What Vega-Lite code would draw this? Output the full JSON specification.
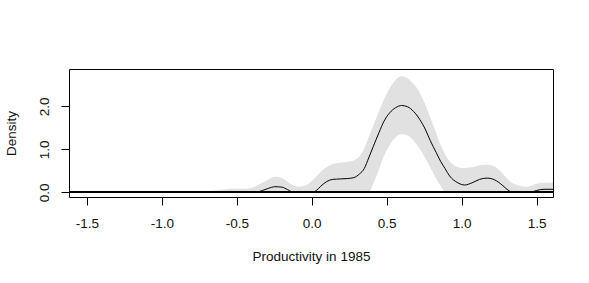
{
  "$schema": "https://vega.github.io/schema/vega-lite/v6.json",
  "width": 484,
  "height": 128,
  "autosize": "none",
  "padding": {"left": 69, "top": 69, "right": 36, "bottom": 86},
  "background": "white",
  "config": {
    "view": {"stroke": "black", "strokeWidth": 1},
    "font": "Liberation Sans",
    "axis": {
      "grid": false,
      "domain": false,
      "tickColor": "black",
      "tickSize": 8,
      "labelFont": "Liberation Sans",
      "titleFont": "Liberation Sans",
      "labelFontSize": 13.5,
      "titleFontSize": 13.5,
      "labelColor": "#111111",
      "titleColor": "#111111",
      "titleFontWeight": "normal"
    }
  },
  "data": {
    "values": [
      {"x": -1.62, "est": 0, "lo": 0, "hi": 0},
      {"x": -1.0, "est": 0, "lo": 0, "hi": 0.005},
      {"x": -0.9, "est": 0, "lo": 0, "hi": 0.01},
      {"x": -0.8, "est": 0, "lo": 0, "hi": 0.015},
      {"x": -0.7, "est": 0, "lo": 0, "hi": 0.03},
      {"x": -0.6, "est": 0, "lo": 0, "hi": 0.06},
      {"x": -0.52, "est": 0, "lo": 0, "hi": 0.09},
      {"x": -0.45, "est": 0, "lo": 0, "hi": 0.08},
      {"x": -0.38, "est": 0, "lo": 0, "hi": 0.13},
      {"x": -0.33, "est": 0.04, "lo": 0, "hi": 0.22},
      {"x": -0.29, "est": 0.09, "lo": 0, "hi": 0.3},
      {"x": -0.245, "est": 0.13, "lo": 0, "hi": 0.36},
      {"x": -0.2, "est": 0.12, "lo": 0, "hi": 0.33},
      {"x": -0.16, "est": 0.06, "lo": 0, "hi": 0.24},
      {"x": -0.12, "est": 0, "lo": 0, "hi": 0.16},
      {"x": -0.08, "est": 0, "lo": 0, "hi": 0.13},
      {"x": -0.03, "est": 0, "lo": 0, "hi": 0.18},
      {"x": 0.0, "est": 0, "lo": 0, "hi": 0.26},
      {"x": 0.03, "est": 0.04, "lo": 0, "hi": 0.37},
      {"x": 0.06, "est": 0.14, "lo": 0, "hi": 0.48},
      {"x": 0.1, "est": 0.25, "lo": 0, "hi": 0.59},
      {"x": 0.14, "est": 0.3, "lo": 0, "hi": 0.66},
      {"x": 0.19, "est": 0.31, "lo": 0, "hi": 0.69},
      {"x": 0.24, "est": 0.32, "lo": 0, "hi": 0.71},
      {"x": 0.28, "est": 0.34, "lo": 0, "hi": 0.74},
      {"x": 0.32, "est": 0.43, "lo": 0, "hi": 0.85},
      {"x": 0.35, "est": 0.55, "lo": 0, "hi": 1.02},
      {"x": 0.38, "est": 0.8, "lo": 0, "hi": 1.28},
      {"x": 0.41, "est": 1.06, "lo": 0.2, "hi": 1.55},
      {"x": 0.45, "est": 1.4, "lo": 0.55, "hi": 1.9},
      {"x": 0.48, "est": 1.64, "lo": 0.83, "hi": 2.15},
      {"x": 0.52, "est": 1.85, "lo": 1.1, "hi": 2.42},
      {"x": 0.56, "est": 1.97, "lo": 1.28, "hi": 2.62},
      {"x": 0.6, "est": 2.02, "lo": 1.35, "hi": 2.7},
      {"x": 0.64, "est": 1.99, "lo": 1.32, "hi": 2.65},
      {"x": 0.68, "est": 1.88, "lo": 1.2, "hi": 2.52},
      {"x": 0.72, "est": 1.7, "lo": 1.02, "hi": 2.32},
      {"x": 0.76, "est": 1.45, "lo": 0.78, "hi": 2.02},
      {"x": 0.79, "est": 1.21, "lo": 0.59, "hi": 1.75},
      {"x": 0.83, "est": 0.93, "lo": 0.32, "hi": 1.38},
      {"x": 0.86, "est": 0.72, "lo": 0.15, "hi": 1.1},
      {"x": 0.89, "est": 0.55, "lo": 0, "hi": 0.88},
      {"x": 0.92, "est": 0.38, "lo": 0, "hi": 0.72},
      {"x": 0.97, "est": 0.23, "lo": 0, "hi": 0.59},
      {"x": 1.02, "est": 0.17, "lo": 0, "hi": 0.56},
      {"x": 1.07, "est": 0.22, "lo": 0, "hi": 0.58},
      {"x": 1.12, "est": 0.3, "lo": 0.02, "hi": 0.63},
      {"x": 1.17, "est": 0.33, "lo": 0.03, "hi": 0.64},
      {"x": 1.22, "est": 0.29, "lo": 0.02, "hi": 0.6},
      {"x": 1.27, "est": 0.17, "lo": 0, "hi": 0.45},
      {"x": 1.31, "est": 0.05, "lo": 0, "hi": 0.3},
      {"x": 1.34, "est": 0, "lo": 0, "hi": 0.21},
      {"x": 1.38, "est": 0, "lo": 0, "hi": 0.16},
      {"x": 1.43, "est": 0, "lo": 0, "hi": 0.13},
      {"x": 1.47, "est": 0.01, "lo": 0, "hi": 0.16},
      {"x": 1.5, "est": 0.04, "lo": 0, "hi": 0.2},
      {"x": 1.55, "est": 0.07, "lo": 0, "hi": 0.22},
      {"x": 1.61, "est": 0.07, "lo": 0, "hi": 0.22}
    ]
  },
  "layer": [
    {
      "mark": {"type": "area", "color": "#e1e1e1", "interpolate": "monotone", "clip": true},
      "encoding": {
        "x": {
          "field": "x", "type": "quantitative",
          "scale": {"domain": [-1.62, 1.61], "nice": false, "zero": false},
          "axis": {
            "values": [-1.5, -1.0, -0.5, 0, 0.5, 1.0, 1.5],
            "labelExpr": "replace(format(datum.value, '.1f'), '\u2212', '-')",
            "labelPadding": 11,
            "title": "Productivity in 1985",
            "titlePadding": 20
          }
        },
        "y": {
          "field": "lo", "type": "quantitative",
          "scale": {"domain": [-0.11, 2.87], "nice": false, "zero": false},
          "axis": {
            "values": [0, 0.5, 1, 1.5, 2, 2.5],
            "labelExpr": "datum.value % 1 == 0 ? format(datum.value, '.1f') : ''",
            "labelAngle": -90,
            "labelAlign": "center",
            "labelBaseline": "bottom",
            "labelPadding": 10,
            "title": "Density",
            "titlePadding": 19
          }
        },
        "y2": {"field": "hi"}
      }
    },
    {
      "mark": {"type": "line", "color": "black", "strokeWidth": 1, "interpolate": "monotone", "clip": true},
      "encoding": {
        "x": {"field": "x", "type": "quantitative"},
        "y": {"field": "est", "type": "quantitative"}
      }
    },
    {
      "mark": {"type": "rule", "color": "black", "strokeWidth": 1.2},
      "encoding": {"y": {"datum": 0}}
    }
  ]
}
